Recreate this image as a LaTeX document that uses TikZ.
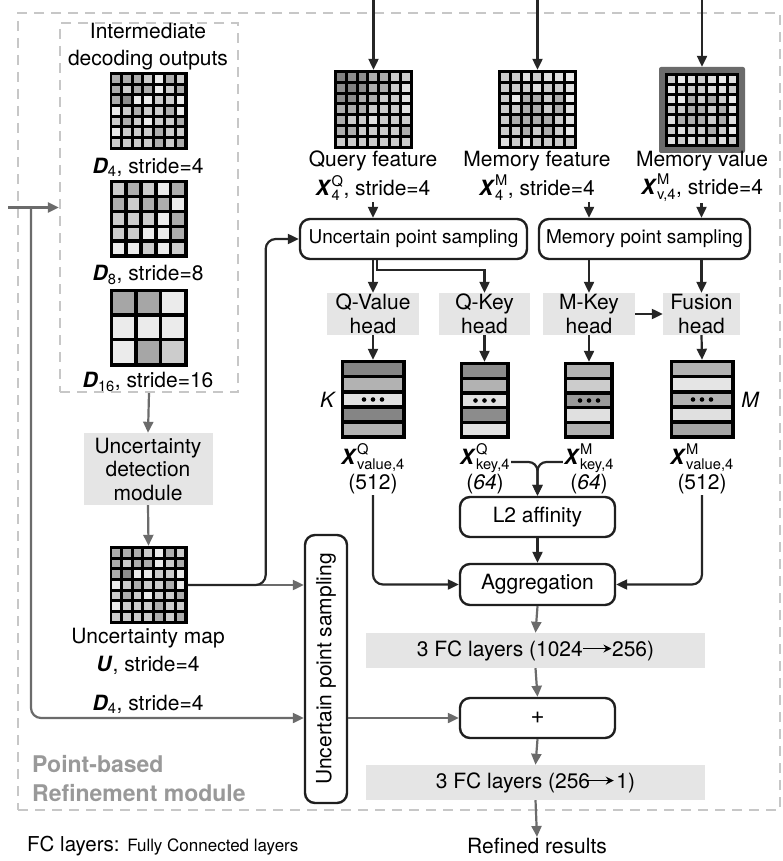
\documentclass[tikz,border=0pt]{standalone}
\usepackage{fontspec}
\usepackage{amsmath}
\setmainfont{TeX Gyre Heros}
\usetikzlibrary{arrows.meta,calc}

\newcommand{\bX}{\textbf{\textit{X}}}
\newcommand{\bD}{\textbf{\textit{D}}}
\newcommand{\rarr}{\tikz[baseline=-7.5pt,x=1pt,y=1pt]\draw[line width=1.3pt,-{Stealth[length=8pt,width=8pt]}] (0pt,0pt) -- (28pt,0pt);}

% feature map: name, center, size, n, gap, shades
\newcommand{\fmap}[6]{%
  \node[fill=black, inner sep=0pt, minimum size=#3] (#1) at (#2) {};
  \pgfmathsetmacro\fp{(#3-#5)/#4}
  \foreach \v [count=\i from 0] in {#6} {
    \pgfmathtruncatemacro\cc{mod(\i,#4)}
    \pgfmathtruncatemacro\rr{floor(\i/#4)}
    \fill[black!\v] ($(#1.north west)+(#5+\cc*\fp,#5+\rr*\fp)$) rectangle ++(\fp-#5,\fp-#5);
  }
}
% vector: name, center, w, h, shades(5)
\newcommand{\fvec}[5]{%
  \node[fill=black, inner sep=0pt, minimum width=#3, minimum height=#4] (#1) at (#2) {};
  \pgfmathsetmacro\vp{(#4-3.5)/5}
  \foreach \v [count=\i from 0] in {#5} {
    \fill[black!\v] ($(#1.north west)+(3.5,3.5+\i*\vp)$) rectangle ++(#3-7,\vp-3.5);
  }
  \foreach \dx in {-9,0,9} {\fill ($(#1.center)+(\dx,0)$) circle (2.3);}
}

\begin{document}
\begin{tikzpicture}[x=1pt,y=-1pt,
  lab/.style={inner sep=1pt, font=\fontsize{21}{27}\selectfont, align=center},
  box/.style={draw=black!88, line width=2.4pt, rounded corners=10pt, inner sep=0pt, font=\fontsize{21}{26}\selectfont},
  sbox/.style={box, font=\fontsize{19}{22}\selectfont},
  gbox/.style={fill=black!10, inner sep=0pt, align=center, font=\fontsize{21}{23.5}\selectfont},
  arr/.style={draw=black!85, line width=2.2pt, -{Triangle[length=11pt,width=10pt]}},
  garr/.style={draw=black!58, line width=2.2pt, -{Triangle[length=11pt,width=10pt]}},
  dbox/.style={draw=black!22, line width=2.2pt, dash pattern=on 10pt off 7pt, inner sep=0pt},
]
\useasboundingbox (0,0) rectangle (783,861);

% dashed frames
\node[dbox, minimum width=762, minimum height=797] (outer) at (399,411.5) {};
\node[dbox, minimum width=178, minimum height=369] (inner) at (149,207.5) {};

% left column
\node[lab] (title) at (148,47) {Intermediate\\decoding outputs};
\fmap{d4}{148.5,111}{78}{7}{3}{32,32,32,20,8,32,20, 32,20,32,32,8,20,32, 32,45,8,8,20,20,8, 8,20,32,20,20,32,8, 20,32,20,8,20,20,32, 8,20,20,20,32,20,20, 20,20,20,20,32,20,32}
\node[lab] (d4lab) at (148,167) {\bD\textsubscript{4}, stride=4};
\fmap{d8}{148.5,219}{78}{5}{3.5}{20,32,20,8,32, 32,20,32,32,8, 20,20,20,8,32, 20,20,8,8,32, 8,8,20,8,20}
\node[lab] (d8lab) at (148,275) {\bD\textsubscript{8}, stride=8};
\fmap{d16}{148.5,327.5}{78}{3}{3.5}{35,35,8, 8,8,8, 8,35,20}
\node[lab] (d16lab) at (148,382) {\bD\textsubscript{16}, stride=16};

\node[gbox, minimum width=129, minimum height=72] (udm) at (148,469) {Uncertainty\\detection\\module};
\fmap{umap}{148.5,585}{78}{7}{3}{32,32,32,20,8,32,20, 32,20,32,32,8,20,32, 32,45,8,8,20,20,8, 8,20,32,20,20,32,8, 20,32,20,8,20,20,32, 8,20,20,20,32,20,20, 20,20,20,20,32,20,32}
\node[lab] (ulab1) at (148,638) {Uncertainty map};
\node[lab] (ulab2) at (148,665) {\textbf{\textit{U}}, stride=4};
\node[lab] (d4blab) at (148,704) {\bD\textsubscript{4}, stride=4};

\node[box, minimum width=42, minimum height=268] (vs) at (326,669) {};
\node[lab, rotate=90] (vstxt) at (vs.center) {Uncertain point sampling};

% top feature maps
\fmap{qf}{373.5,109.5}{79}{7}{3}{50,45,45,32,32,20,20, 45,50,45,32,32,20,12, 45,45,32,32,20,20,12, 32,32,32,20,20,20,12, 32,20,20,12,20,20,20, 32,32,20,20,20,20,32, 20,20,20,20,20,20,20}
\fmap{mf}{537.5,109.5}{79}{7}{3}{20,20,12,20,12,12,8, 20,20,20,12,20,20,12, 20,8,32,32,20,32,8, 20,20,32,32,20,32,12, 20,32,32,32,32,20,12, 20,20,32,20,32,20,8, 12,20,12,20,20,20,20}
\node[fill=black!58, rounded corners=2pt, minimum size=86, inner sep=0pt] (mvb) at (702,110) {};
\fmap{mv}{702,110}{74}{7}{3}{20,8,12,20,12,8,12, 8,20,20,20,12,12,20, 12,8,32,20,32,20,8, 20,20,32,32,20,32,12, 12,32,32,32,20,32,12, 20,12,20,20,32,20,8, 12,20,12,20,20,12,20}

\node[lab] (qlab1) at (373,161) {Query feature};
\node[lab] (qlab2) at (373,188) {$\bX^{\text{Q}}_{\text{4}}$, stride=4};
\node[lab] (mlab1) at (537,161) {Memory feature};
\node[lab] (mlab2) at (537,188) {$\bX^{\text{M}}_{\text{4}}$, stride=4};
\node[lab] (vlab1) at (702,161) {Memory value};
\node[lab] (vlab2) at (702,188) {$\bX^{\text{M}}_{\text{v,4}}$, stride=4};

% sampling
\node[sbox, minimum width=227, minimum height=40] (ups) at (413.5,239) {Uncertain point sampling};
\node[sbox, minimum width=211, minimum height=40] (mps) at (644.5,239) {Memory point sampling};

% heads
\node[gbox, minimum width=92, minimum height=42] (qv) at (373,314) {Q-Value\\head};
\node[gbox, minimum width=91, minimum height=42] (qk) at (484.5,314) {Q-Key\\head};
\node[gbox, minimum width=92, minimum height=42] (mk) at (589,314) {M-Key\\head};
\node[gbox, minimum width=77, minimum height=42] (fu) at (701.5,314) {Fusion\\head};

% vectors
\fvec{qvv}{373,399.5}{65}{79}{48,30,12,48,30}
\fvec{qkv}{484.5,400.5}{50}{77}{45,30,12,45,12}
\fvec{mkv}{589,400.5}{50}{77}{30,20,40,12,30}
\fvec{mvv}{702,399.5}{65}{79}{30,10,30,12,35}
\node[lab, font=\fontsize{21}{26}\selectfont\itshape] (klab) at (327,400) {K};
\node[lab, font=\fontsize{21}{26}\selectfont\itshape] (mlab) at (750,400) {M};

\node[lab] (qvl) at (373,458) {$\bX^{\text{Q}}_{\text{value,4}}$};
\node[lab] (qvc) at (373,484) {(512)};
\node[lab] (qkl) at (485,458) {$\bX^{\text{Q}}_{\text{key,4}}$};
\node[lab] (qkc) at (485,484) {(\textit{64})};
\node[lab] (mkl) at (589,458) {$\bX^{\text{M}}_{\text{key,4}}$};
\node[lab] (mkc) at (589,484) {(\textit{64})};
\node[lab] (mvl) at (702,458) {$\bX^{\text{M}}_{\text{value,4}}$};
\node[lab] (mvc) at (702,484) {(512)};

% lower pipeline
\node[box, minimum width=155, minimum height=40] (l2) at (537.5,517) {L2 affinity};
\node[box, minimum width=155, minimum height=41] (agg) at (537.5,584.5) {Aggregation};
\node[gbox, minimum width=339, minimum height=35] (fc1) at (535.5,650.5) {3 FC layers (1024\rarr256)};
\node[box, minimum width=155, minimum height=40, font=\fontsize{24}{26}\selectfont] (plus) at (537.5,718) {+};
\node[gbox, minimum width=339, minimum height=35] (fc2) at (535.5,782.5) {3 FC layers (256\hspace{-5pt}\rarr\hspace{2pt}1)};
\node[lab] (res) at (537,846) {Refined results};

\node[anchor=west, inner sep=0pt] (legend) at (27,846) {\fontsize{20.5}{24}\selectfont FC layers: \fontsize{17}{20}\selectfont Fully Connected layers};
\node[anchor=base west, inner sep=0pt, text=black!40, font=\fontsize{23}{30}\selectfont\bfseries] (pbr1) at (32,772) {Point-based};
\node[anchor=base west, inner sep=0pt, text=black!40, font=\fontsize{23}{30}\selectfont\bfseries] (pbr2) at (32,801) {Refinement module};

% connectors: top
\coordinate (qin) at (373.5,0);
\coordinate (min) at (537.5,0);
\coordinate (vin) at (702,0);
\draw[arr] (qin) -- (qf.north);
\draw[arr] (min) -- (mf.north);
\draw[arr] (vin) -- (mvb.north);
\draw[arr] (qlab2.south) -- (qlab2.south |- ups.north);
\draw[arr] (mk |- mlab2.south) -- (mk |- mps.north);
\draw[arr] (fu |- vlab2.south) -- (fu |- mps.north);

\draw[arr] (qv |- ups.south) -- (qv.north);
\draw[arr] ($(qv |- ups.south)+(4,0)$) -- ++(0,10) -| (qk.north);
\draw[arr] (mk |- mps.south) -- (mk.north);
\draw[arr] (fu |- mps.south) -- (fu.north);
\draw[arr] (mk.east) -- (fu.west);

\draw[arr] (qv.south) -- (qvv.north);
\draw[arr] (qk.south) -- (qkv.north);
\draw[arr] (mk.south) -- (mkv.north);
\draw[arr] (fu.south) -- (mvv.north);

\draw[arr, rounded corners=9pt] ($(qkl.east)+(0,4)$) -| (l2.north);
\draw[arr, rounded corners=9pt] ($(mkl.west)+(0,4)$) -| (l2.north);
\draw[arr] (l2.south) -- (agg.north);
\draw[arr, rounded corners=10pt] (qvc.south) |- (agg.west);
\draw[arr, rounded corners=10pt] (mvc.south) |- (agg.east);
\draw[garr] (agg.south) -- (fc1.north);
\draw[garr] (fc1.south) -- (plus.north);
\draw[garr] (plus.south) -- (fc2.north);
\draw[garr] (fc2.south) -- (res.north);

% connectors: left
\coordinate (lin) at (8,207.5);
\coordinate (jn) at (31,207.5);
\draw[garr] (lin) -- (inner.west);
\draw[garr, rounded corners=10pt] (jn) |- (vs.west |- plus.west);
\draw[garr] (inner.south) -- (udm.north);
\draw[garr] (udm.south) -- (umap.north);
\draw[garr] (umap.east) -- (vs.west |- umap.east);
\draw[arr, rounded corners=10pt] (umap.east) -- ++(78,0) |- (ups.west);
\draw[garr] (vs.east |- plus.west) -- (plus.west);
\end{tikzpicture}
\end{document}
